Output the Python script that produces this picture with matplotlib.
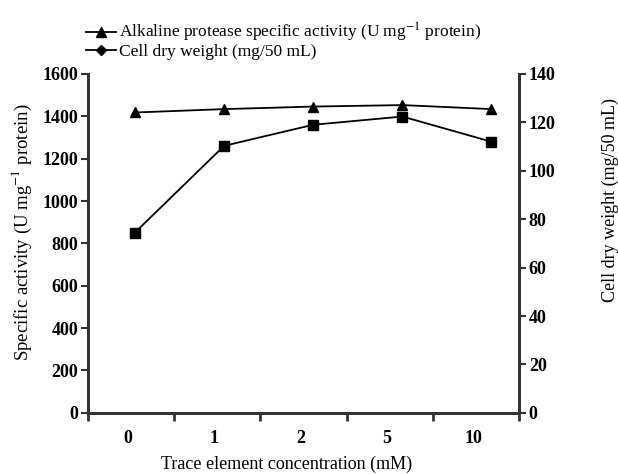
import matplotlib.pyplot as plt
from matplotlib.lines import Line2D

plt.rcParams['font.family'] = ['Liberation Serif', 'DejaVu Serif']
plt.rcParams['mathtext.fontset'] = 'stix'

conc_labels = ['0', '1', '2', '5', '10']
protease_activity = [1418, 1434, 1446, 1453, 1434]   # U mg-1 protein
cell_dry_weight = [74.5, 110.3, 119.0, 122.4, 112.0]  # mg/50 mL

fig = plt.figure(figsize=(6.18, 4.74), dpi=100)
ax = fig.add_axes([0.142, 0.129, 0.698, 0.715])
ax2 = ax.twinx()

x = list(range(len(conc_labels)))
ax.plot(x, protease_activity, color='black', lw=1.3, marker='^', ms=7, zorder=3)
ax2.plot(x, cell_dry_weight, color='black', lw=1.3, marker='s', ms=7, zorder=3)

ax.set_xlim(-0.53, 4.31)
ax.set_ylim(0, 1600)
ax2.set_ylim(0, 140)
ax.set_yticks(range(0, 1601, 200))
ax2.set_yticks(range(0, 141, 20))

# category ticks at bin edges, labels in the middle
edges = [-0.53 + i * (4.31 + 0.53) / 5 for i in range(6)]
ax.set_xticks(edges)
ax.set_xticklabels([])
mids = [(edges[i] + edges[i + 1]) / 2 - 0.03 for i in range(5)]
ax.set_xticks(mids, minor=True)
ax.set_xticklabels(conc_labels, minor=True)
ax.tick_params(axis='x', which='minor', length=0, pad=12, labelsize=13)
ax.tick_params(axis='x', which='major', length=6, width=2, color='#333333')

for a in (ax, ax2):
    a.spines['top'].set_visible(False)
    for s in ('left', 'right', 'bottom'):
        a.spines[s].set_linewidth(2)
        a.spines[s].set_color('#333333')
    a.tick_params(axis='y', length=5, width=1.5, color='#333333', labelsize=13, pad=2)
for lab in ax.get_yticklabels() + ax2.get_yticklabels() + ax.get_xticklabels(minor=True):
    lab.set_fontweight('bold')

ax.set_ylabel('Specific activity (U mg$^{-1}$ protein)', fontsize=13.5)
ax.yaxis.set_label_coords(-0.125, 0.534)
ax2.set_ylabel('Cell dry weight (mg/50 mL)', fontsize=13)
ax2.yaxis.set_label_coords(1.192, 0.628)
ax.set_xlabel('Trace element concentration (mM)', fontsize=13)
ax.xaxis.set_label_coords(0.46, -0.127)

handles = [Line2D([], [], color='black', lw=1.3, marker='^', ms=7),
           Line2D([], [], color='black', lw=1.3, marker='D', ms=5)]
fig.legend(handles,
           ['Alkaline protease specific activity (U mg$^{-1}$ protein)',
            'Cell dry weight (mg/50 mL)'],
           loc='upper left', bbox_to_anchor=(0.12, 0.982), frameon=False,
           fontsize=12.5, handlelength=1.7, handletextpad=0.2,
           labelspacing=0.0, borderpad=0.2)

plt.savefig('out.png', dpi=100)
